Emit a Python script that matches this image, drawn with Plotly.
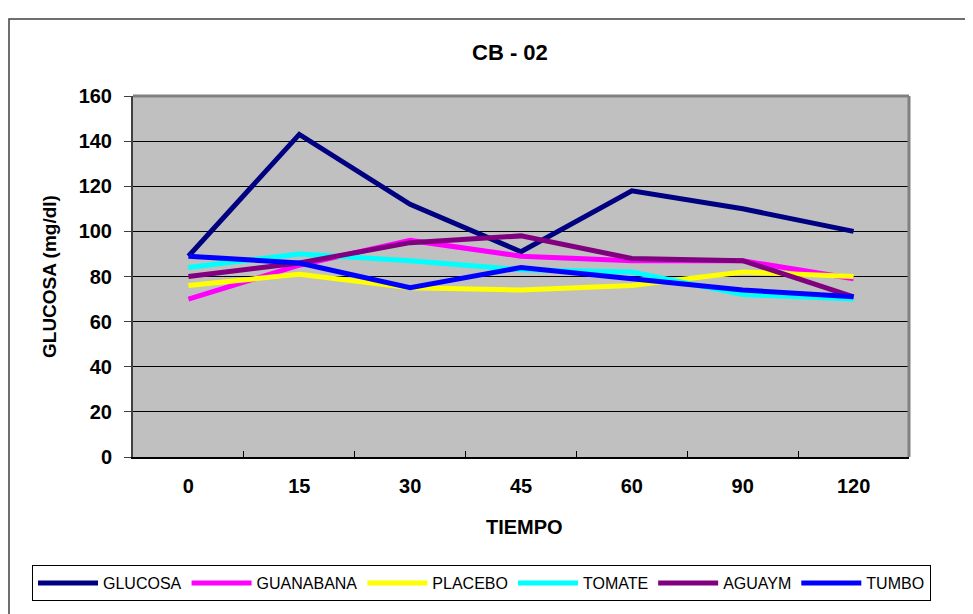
import plotly.graph_objects as go

tiempo = ["0", "15", "30", "45", "60", "90", "120"]
glucosa = [89, 143, 112, 91, 118, 110, 100]
guanabana = [70, 85, 96, 89, 87, 87, 79]
placebo = [76, 81, 75, 74, 76, 82, 80]
tomate = [84, 90, 87, 83, 82, 72, 70]
aguaym = [80, 86, 95, 98, 88, 87, 71]
tumbo = [89, 86, 75, 84, 79, 74, 71]

series = [
    ("GLUCOSA", glucosa, "#000080"),
    ("GUANABANA", guanabana, "#FF00FF"),
    ("PLACEBO", placebo, "#FFFF00"),
    ("TOMATE", tomate, "#00FFFF"),
    ("AGUAYM", aguaym, "#800080"),
    ("TUMBO", tumbo, "#0000FF"),
]

OFF = 8  # page body margin
W, H = 973 - OFF, 614 - OFF
L, R, T, B = 133, 909, 96, 457  # plot area in screen coords
pw, ph = R - L, B - T

def px(x):
    return (x - L) / pw

def py(y):
    return (B - y) / ph

fig = go.Figure()
for name, vals, col in series:
    fig.add_trace(go.Scatter(x=tiempo, y=vals, name=name, mode="lines",
                             line=dict(color=col, width=5)))

font = "Arial, Liberation Sans, sans-serif"
boldtick = dict(size=20, family=font, weight="bold", color="black")

fig.update_layout(
    width=W, height=H,
    margin=dict(l=L - OFF, r=(973 - R), t=T - OFF, b=(614 - B)),
    paper_bgcolor="white",
    plot_bgcolor="#C0C0C0",
    font=dict(family=font, color="black"),
    showlegend=True,
    legend=dict(orientation="h", x=px(32), y=py(565), xanchor="left", yanchor="top",
                bordercolor="black", borderwidth=1, bgcolor="white",
                font=dict(size=16, family=font), itemwidth=60),
    xaxis=dict(type="category", range=[-0.5, 6.5], showgrid=False,
               tickson="boundaries", ticks="inside", ticklen=6, tickcolor="black",
               showline=True, linecolor="black", linewidth=2,
               tickfont=boldtick, ticklabelstandoff=10, automargin=False,
               zeroline=False, fixedrange=True),
    yaxis=dict(range=[0, 160], dtick=20, showgrid=True, gridcolor="black", gridwidth=1,
               ticks="outside", ticklen=7, tickcolor="#404040",
               showline=True, linecolor="#404040", linewidth=2,
               tickfont=boldtick, ticklabelstandoff=8, automargin=False,
               zeroline=False, fixedrange=True),
    shapes=[
        dict(type="rect", xref="paper", yref="paper", x0=px(9), x1=px(990),
             y0=py(19), y1=py(640), line=dict(color="#404040", width=1.5), layer="below"),
        dict(type="line", xref="paper", yref="paper", x0=0, x1=1, y0=1, y1=1,
             line=dict(color="#808080", width=3)),
        dict(type="line", xref="paper", yref="paper", x0=1, x1=1, y0=0, y1=1,
             line=dict(color="#808080", width=3)),
    ],
    annotations=[
        dict(text="<b>CB - 02</b>", xref="paper", yref="paper", x=px(510), y=py(52),
             xanchor="center", yanchor="middle", showarrow=False,
             font=dict(size=22, family=font)),
        dict(text="<b>TIEMPO</b>", xref="paper", yref="paper", x=px(524), y=py(527),
             xanchor="center", yanchor="middle", showarrow=False,
             font=dict(size=20, family=font)),
        dict(text="<b>GLUCOSA (mg/dl)</b>", xref="paper", yref="paper", x=px(49), y=py(277),
             xanchor="center", yanchor="middle", showarrow=False, textangle=-90,
             font=dict(size=19, family=font)),
    ],
)

fig.write_html("out.html")
